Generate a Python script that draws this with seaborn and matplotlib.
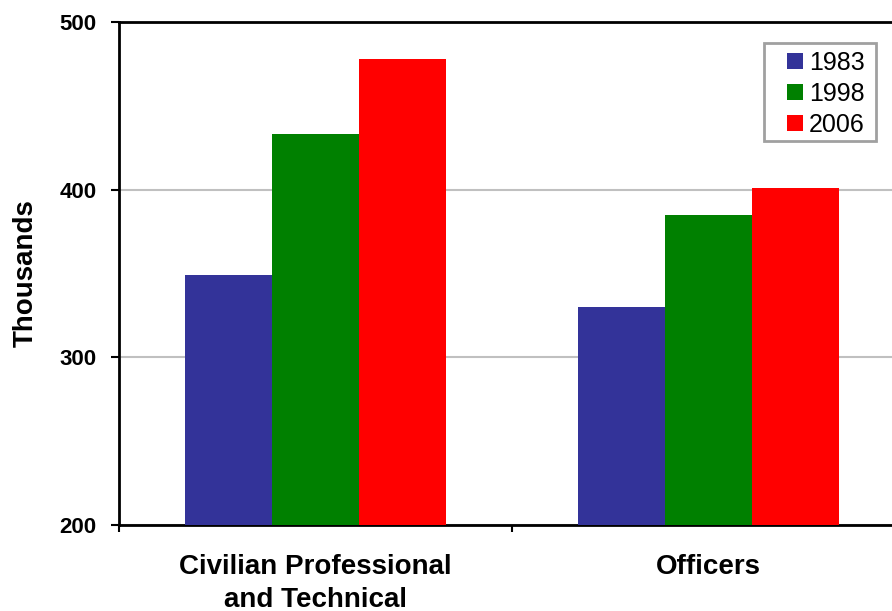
import matplotlib
matplotlib.use("Agg")
import matplotlib.pyplot as plt
import matplotlib.patches as mpatches
import seaborn as sns
import pandas as pd

categories = ["Civilian Professional\nand Technical", "Officers"]
years = ["1983", "1998", "2006"]
values_1983 = [349, 330]
values_1998 = [433, 385]
values_2006 = [478, 401]
colors = ["#333399", "#008000", "#FF0000"]

rows = []
for year, vals in zip(years, [values_1983, values_1998, values_2006]):
    for cat, v in zip(categories, vals):
        rows.append({"category": cat, "year": year, "value": v})
df = pd.DataFrame(rows)

sns.set_theme(style="white")
plt.rcParams["font.family"] = ["Liberation Sans", "DejaVu Sans"]
plt.rcParams["text.color"] = "black"
plt.rcParams["axes.labelcolor"] = "black"
plt.rcParams["xtick.color"] = "black"
plt.rcParams["ytick.color"] = "black"

W, H = 892, 611
fig = plt.figure(figsize=(W / 100, H / 100), dpi=100)
ax = fig.add_axes([119 / W, 1 - 525 / H, 786 / W, 503 / H])

sns.barplot(data=df, x="category", y="value", hue="year", order=categories,
            hue_order=years, palette=colors, width=0.664, saturation=1,
            edgecolor="none", linewidth=0, ax=ax, zorder=3)

ax.set_ylim(200, 500)
ax.set_xlim(-0.5, 1.5)
ax.set_yticks([200, 300, 400, 500])
ax.set_yticklabels(["200", "300", "400", "500"], fontsize=16, fontweight="bold")
ax.yaxis.grid(True, color="#c0c0c0", linewidth=1.5, zorder=0)
ax.set_axisbelow(True)

ax.set_xticks([0, 1])
ax.set_xticklabels(categories, fontsize=20, fontweight="bold", linespacing=1.32)
ax.tick_params(axis="x", length=0, pad=21)
ax.tick_params(axis="y", length=6, width=1.5, color="black", direction="out",
               left=True, pad=10)

# category boundary ticks on the x axis
ax.set_xticks([-0.5, 0.5, 1.5], minor=True)
ax.tick_params(axis="x", which="minor", length=5, width=1.5, color="black",
               direction="out", bottom=True)

for side in ["left", "bottom", "top"]:
    ax.spines[side].set_visible(True)
    ax.spines[side].set_color("black")
    ax.spines[side].set_linewidth(2)
ax.spines["right"].set_visible(False)

ax.set_xlabel("")
ax.set_ylabel("Thousands", fontsize=20, fontweight="bold", labelpad=15)

# legend box drawn separately for its wider side margins
box = mpatches.Rectangle((764 / W, 1 - 141 / H), 112 / W, 98 / H,
                         transform=fig.transFigure, facecolor="white",
                         edgecolor="#a0a0a0", linewidth=2, zorder=5,
                         clip_on=False)
ax.add_patch(box)
leg = ax.legend(loc="upper left", bbox_to_anchor=(787 / W, 1 - 51 / H),
                bbox_transform=fig.transFigure, fontsize=18, frameon=False,
                handlelength=0.64, handleheight=0.6, handletextpad=0.25,
                labelspacing=0.27, borderpad=0, borderaxespad=0)
leg.set_title(None)
leg.set_zorder(6)

fig.savefig("out.png", dpi=100)
